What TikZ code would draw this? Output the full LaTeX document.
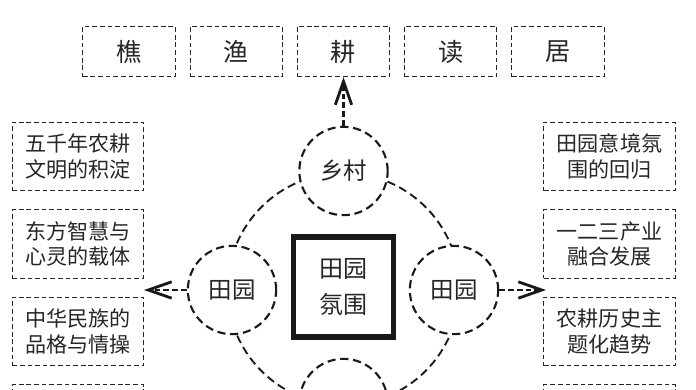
\documentclass[tikz,border=0pt]{standalone}
\usepackage{fontspec}
\usepackage{tikz}
\usetikzlibrary{arrows.meta,positioning}
\newfontfamily\cjk{Noto Sans CJK SC}

\begin{document}
\begin{tikzpicture}[
  x=0.03cm,
  y=-0.03cm,
  wordBox/.style={draw=black!85, line width=0.8pt, dash pattern=on 4pt off 2.5pt, minimum width=2.77cm, minimum height=1.51cm, text=black!85, font=\cjk\fontsize{21.5}{24}\selectfont},
  noteBox/.style={draw=black!85, line width=0.8pt, dash pattern=on 4pt off 2.5pt, minimum width=3.94cm, minimum height=2.05cm, align=center, text=black!85, font=\cjk\fontsize{18}{21.5}\selectfont},
  placeCircle/.style={circle, draw=black!90, fill=white, line width=1.8pt, dash pattern=on 7pt off 4pt, minimum size=2.65cm, inner sep=0pt, text=black!85, font=\cjk\fontsize{20}{24}\selectfont},
  ringLine/.style={draw=black!90, line width=1.6pt, dash pattern=on 7pt off 4pt},
  coreBox/.style={draw=black!90, line width=4.3pt, minimum size=3.0cm, inner sep=0pt, align=center, text=black!85, font=\cjk\fontsize{20.5}{30.6}\selectfont},
  pointer/.style={draw=black!90, line width=2.4pt, dash pattern=on 5pt off 2.5pt, -{Straight Barb[length=20pt,width=14pt]}}
]
\useasboundingbox (0,0) rectangle (696,390);
\clip (0,0) rectangle (696,390);

\foreach \word [count=\i] in {樵,渔,耕,读,居} {
  \node[wordBox] (w\i) at ({129+107.25*(\i-1)},51.5) {\word};
}

\foreach \txt [count=\i] in {{五千年农耕\\文明的积淀},{东方智慧与\\心灵的载体},{中华民族的\\品格与情操},{}} {
  \node[noteBox] (l\i) at (78,{156.5+87.5*(\i-1)}) {\txt};
}
\foreach \txt [count=\i] in {{田园意境氛\\围的回归},{一二三产业\\融合发展},{农耕历史主\\题化趋势},{}} {
  \node[noteBox] (r\i) at (609.5,{156.5+87.5*(\i-1)}) {\txt};
}

\draw[ringLine] (343.5,289) circle[radius=3.48cm];

\node[coreBox] (core) at (343.5,287) {田园\\氛围};

\node[placeCircle] (cTop) at (343.5,171) {乡村};
\node[placeCircle] (cLeft) at (232,290) {田园};
\node[placeCircle] (cRight) at (454,290) {田园};
\node[placeCircle] (cBottom) at (343.5,403) {};

\coordinate (leftTip) at (144,290);
\coordinate (rightTip) at (546,290);

\draw[pointer] (cTop) -- (w3);
\draw[pointer] (cLeft) -- (leftTip);
\draw[pointer] (cRight) -- (rightTip);
\end{tikzpicture}
\end{document}
